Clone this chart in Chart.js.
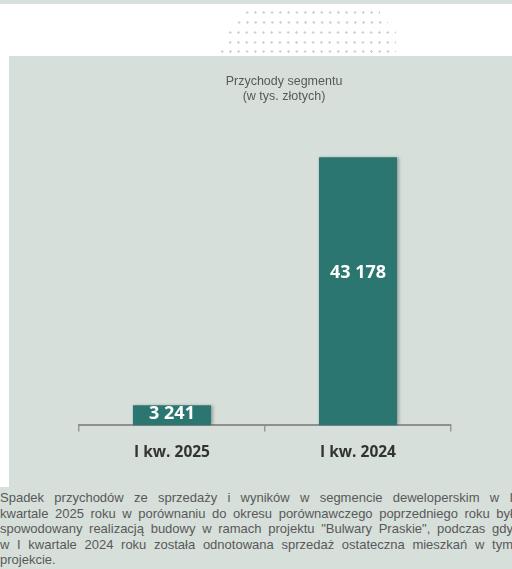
<!DOCTYPE html>
<html>
<head>
<meta charset="utf-8">
<script src="https://cdn.jsdelivr.net/npm/chart.js@4"></script>
<style>
  body { margin: 0; width: 512px; height: 569px; overflow: hidden; background: #fff; position: relative; font-family: "Liberation Sans", Arial, sans-serif; }
  .band { position: absolute; left: 0; top: 0; width: 512px; height: 4px; background: #d6dfda; }
  .panel { position: absolute; left: 9px; top: 56px; right: 0; bottom: 0; background: #d6dfda; }
  .dots { position: absolute; height: 3px; background-image: radial-gradient(circle, #cfcfcf 1px, transparent 1.4px); background-size: 8.3px 3px; }
  #wrap { position: absolute; left: 0; top: 56px; width: 512px; height: 434px; }
  .note { position: absolute; left: 0; top: 487px; width: 513px; bottom: 0; background: #d6dfda; color: #595959; font-size: 13px; line-height: 15.5px; padding-top: 3px; }
  .note div { text-align: justify; text-align-last: justify; }
  .note div.last { text-align-last: left; }
</style>
</head>
<body>
<div class="band"></div>
<div class="dots" style="left:243px;top:11px;width:137px"></div>
<div class="dots" style="left:235px;top:21px;width:153px"></div>
<div class="dots" style="left:226px;top:31px;width:170px"></div>
<div class="dots" style="left:226px;top:41px;width:170px"></div>
<div class="dots" style="left:218px;top:50px;width:178px"></div>
<div class="panel"></div>
<div id="wrap"><canvas id="myChart" width="512" height="434"></canvas></div>
<div class="note">
  <div>Spadek przychodów ze sprzedaży i wyników w segmencie deweloperskim w I</div>
  <div>kwartale 2025 roku w porównaniu do okresu porównawczego poprzedniego roku był</div>
  <div>spowodowany realizacją budowy w ramach projektu "Bulwary Praskie", podczas gdy</div>
  <div>w I kwartale 2024 roku została odnotowana sprzedaż ostateczna mieszkań w tym</div>
  <div class="last">projekcie.</div>
</div>
<script>
var categories = ['I kw. 2025', 'I kw. 2024'];
var revenue = [3241, 43178];
var chartTitle = ['Przychody segmentu', '(w tys. złotych)'];

function fmt(v) {
    return String(v).replace(/\B(?=(\d{3})+(?!\d))/g, ' ');
}

// value labels inside the bars + soft shadow like the original
var barLabels = {
    id: 'barLabels',
    beforeDatasetsDraw: function(chart) {
        var ctx = chart.ctx;
        ctx.save();
        ctx.shadowColor = 'rgba(0,0,0,0.28)';
        ctx.shadowBlur = 3;
        ctx.shadowOffsetX = 1.5;
        ctx.shadowOffsetY = 0;
    },
    afterDatasetsDraw: function(chart) {
        var ctx = chart.ctx;
        ctx.restore();
        var meta = chart.getDatasetMeta(0);
        ctx.save();
        ctx.fillStyle = '#ffffff';
        ctx.font = 'bold 18px "Open Sans"';
        ctx.textAlign = 'center';
        ctx.textBaseline = 'middle';
        meta.data.forEach(function(bar, i) {
            var y = bar.y + (bar.base - bar.y) * 0.43;
            ctx.fillText(fmt(revenue[i]), bar.x, y);
        });
        ctx.restore();
    }
};

var ctx = document.getElementById('myChart').getContext('2d');
var myChart = new Chart(ctx, {
    type: 'bar',
    data: {
        labels: categories,
        datasets: [{
            data: revenue,
            backgroundColor: '#2b7670',
            barPercentage: 0.42,
            categoryPercentage: 1
        }]
    },
    options: {
        responsive: false,
        animation: false,
        devicePixelRatio: 1,
        layout: {
            padding: { left: 79, right: 23, top: 0, bottom: 16 }
        },
        plugins: {
            legend: { display: false },
            tooltip: { enabled: false },
            title: {
                display: true,
                text: chartTitle,
                color: '#595959',
                font: { family: 'Liberation Sans', size: 12.5, weight: 'normal', lineHeight: 1.2 },
                padding: { top: 18, bottom: 11 }
            }
        },
        scales: {
            x: {
                grid: { display: true, drawOnChartArea: false, drawTicks: true, tickLength: 6, color: '#999999', lineWidth: 1.5, offset: true },
                border: { display: true, color: '#8f8f8f', width: 2 },
                ticks: { color: '#333333', padding: 12, font: { family: 'Open Sans', weight: 'bold', size: 15.5 } }
            },
            y: {
                position: 'right',
                min: 0,
                max: 50000,
                grid: { display: false },
                border: { display: false },
                ticks: { display: false },
                afterFit: function(s) { s.width = 38; }
            }
        }
    },
    plugins: [barLabels]
});
</script>
</body>
</html>
